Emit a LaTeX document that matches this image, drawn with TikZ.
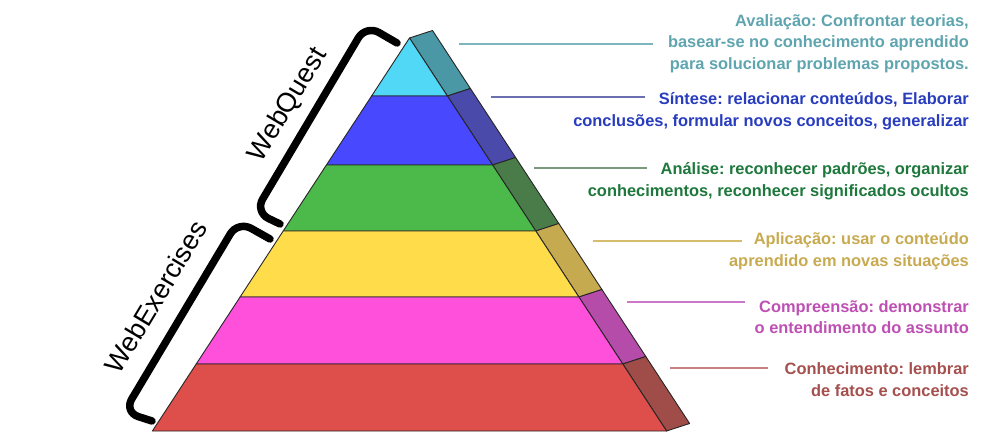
\documentclass[tikz,border=0pt]{standalone}
\usepackage{fontspec}
\setmainfont{Liberation Sans}
\usetikzlibrary{calc}
\frenchspacing
\definecolor{cyanF}{RGB}{80,216,246}
\definecolor{cyanS}{RGB}{74,152,166}
\definecolor{blueF}{RGB}{72,72,255}
\definecolor{blueS}{RGB}{74,74,170}
\definecolor{greenF}{RGB}{76,186,74}
\definecolor{greenS}{RGB}{74,124,74}
\definecolor{yellowF}{RGB}{255,220,74}
\definecolor{yellowS}{RGB}{198,170,80}
\definecolor{pinkF}{RGB}{255,80,220}
\definecolor{pinkS}{RGB}{182,76,170}
\definecolor{redF}{RGB}{222,78,74}
\definecolor{redS}{RGB}{160,76,72}
\definecolor{tAval}{RGB}{95,165,175}
\definecolor{tSint}{RGB}{40,60,190}
\definecolor{tAnal}{RGB}{30,120,60}
\definecolor{tApli}{RGB}{200,170,80}
\definecolor{tComp}{RGB}{190,80,180}
\definecolor{tConh}{RGB}{165,80,78}
\definecolor{lAval}{RGB}{127,181,190}
\definecolor{lSint}{RGB}{106,111,176}
\definecolor{lAnal}{RGB}{122,154,128}
\definecolor{lApli}{RGB}{214,189,110}
\definecolor{lComp}{RGB}{204,119,200}
\definecolor{lConh}{RGB}{201,128,128}
\tikzset{
  face/.style={draw=black!85, line width=0.9pt, line join=round},
  desc/.style={anchor=east, align=right, inner sep=0pt,
    font=\fontsize{16.4}{21.7}\selectfont\bfseries},
  leader/.style={line width=1.4pt},
  bracket/.style={line width=7.5pt, line cap=round, rounded corners=15pt},
  blabel/.style={font=\fontsize{27}{30}\selectfont, inner sep=0pt, rotate=59}
}
\begin{document}
\begin{tikzpicture}[x=1pt,y=-1pt]
\fill[white] (0,0) rectangle (987,443);
\useasboundingbox (0,0) rectangle (987,443);
% front face boundary points
\coordinate (A)  at (409.5,38);
\coordinate (L1) at (371.6,96);  \coordinate (R1) at (447.4,96);
\coordinate (L2) at (326.4,165); \coordinate (R2) at (492.6,165);
\coordinate (L3) at (283.2,231); \coordinate (R3) at (535.8,231);
\coordinate (L4) at (240.1,297); \coordinate (R4) at (578.9,297);
\coordinate (L5) at (196.2,364); \coordinate (R5) at (622.8,364);
\coordinate (L6) at (152.4,431); \coordinate (R6) at (666.6,431);
% side offsets
\foreach \p in {A,R1,R2,R3,R4,R5,R6}{\coordinate (S\p) at ($(\p)+(23,-7.5)$);}
% side faces
\filldraw[face, fill=cyanS]   (A)  -- (SA)  -- (SR1) -- (R1) -- cycle;
\filldraw[face, fill=blueS]   (R1) -- (SR1) -- (SR2) -- (R2) -- cycle;
\filldraw[face, fill=greenS]  (R2) -- (SR2) -- (SR3) -- (R3) -- cycle;
\filldraw[face, fill=yellowS] (R3) -- (SR3) -- (SR4) -- (R4) -- cycle;
\filldraw[face, fill=pinkS]   (R4) -- (SR4) -- (SR5) -- (R5) -- cycle;
\filldraw[face, fill=redS]    (R5) -- (SR5) -- (SR6) -- (R6) -- cycle;
% front faces
\filldraw[face, fill=cyanF]   (A)  -- (R1) -- (L1) -- cycle;
\filldraw[face, fill=blueF]   (L1) -- (R1) -- (R2) -- (L2) -- cycle;
\filldraw[face, fill=greenF]  (L2) -- (R2) -- (R3) -- (L3) -- cycle;
\filldraw[face, fill=yellowF] (L3) -- (R3) -- (R4) -- (L4) -- cycle;
\filldraw[face, fill=pinkF]   (L4) -- (R4) -- (R5) -- (L5) -- cycle;
\filldraw[face, fill=redF]    (L5) -- (R5) -- (R6) -- (L6) -- cycle;
% brackets
\draw[bracket] (397,43) -- (366,25) -- (255,212) -- (280,224);
\draw[bracket] (270,239) -- (238,221) -- (124,412) -- (152,421);
\node[blabel] (wq) at (288,105) {WebQuest};
\node[blabel] (we) at (156,297) {WebExercises};
% descriptions
\node[desc, text=tAval] (aval) at (969,43.5) {Avaliação: Confrontar teorias,\\basear-se no conhecimento aprendido\\para solucionar problemas propostos.};
\node[desc, text=tSint] (sint) at (969,111) {Síntese: relacionar conteúdos, Elaborar\\conclusões, formular novos conceitos, generalizar};
\node[desc, text=tAnal] (anal) at (969,181.5) {Análise: reconhecer padrões, organizar\\conhecimentos, reconhecer significados ocultos};
\node[desc, text=tApli] (apli) at (969,251) {Aplicação: usar o conteúdo\\aprendido em novas situações};
\node[desc, text=tComp] (comp) at (969,317) {Compreensão: demonstrar\\o entendimento do assunto};
\node[desc, text=tConh] (conh) at (969,379.5) {Conhecimento: lembrar\\de fatos e conceitos};
% leader lines
\coordinate (a1) at (459,44);  \coordinate (a2) at (653,44);
\coordinate (s1) at (491,97);  \coordinate (s2) at (645,97);
\coordinate (n1) at (534,168); \coordinate (n2) at (647,168);
\coordinate (p1) at (593,241); \coordinate (p2) at (742,241);
\coordinate (c1) at (627,302); \coordinate (c2) at (745,302);
\coordinate (k1) at (670,368); \coordinate (k2) at (768,368);
\draw[leader, lAval] (a1) -- (a2);
\draw[leader, lSint] (s1) -- (s2);
\draw[leader, lAnal] (n1) -- (n2);
\draw[leader, lApli] (p1) -- (p2);
\draw[leader, lComp] (c1) -- (c2);
\draw[leader, lConh] (k1) -- (k2);
\end{tikzpicture}
\end{document}
